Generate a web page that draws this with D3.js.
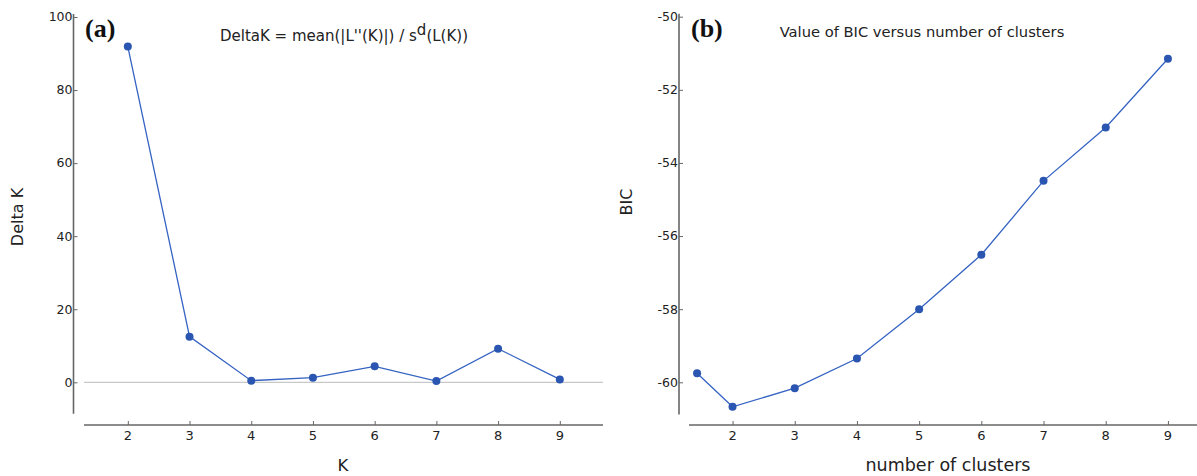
<!DOCTYPE html>
<html><head><meta charset="utf-8">
<script src="https://cdn.jsdelivr.net/npm/d3@7"></script>
<style>
body{margin:0;background:#fff;}
svg{display:block;}
text{font-family:"DejaVu Sans",sans-serif;}
text.tag{font-family:"Liberation Serif","Times New Roman",serif;font-weight:bold;}
</style></head>
<body>
<svg id="chart" width="1197" height="476"></svg>
<script>
// ---- data ----
const kValues = [2, 3, 4, 5, 6, 7, 8, 9];
const deltaK = [91.9, 12.5, 0.45, 1.27, 4.37, 0.35, 9.2, 0.8];
const deltaTicks = [0, 20, 40, 60, 80, 100];
const clusterValues = [1.43, 2, 3, 4, 5, 6, 7, 8, 9];
const bicValues = [-59.75, -60.67, -60.16, -59.35, -58.0, -56.51, -54.49, -53.03, -51.15];
const bicTicks = [-60, -58, -56, -54, -52, -50];
const xTicks = [2, 3, 4, 5, 6, 7, 8, 9];

const svg = d3.select("#chart");
const axisColor = "#666";
const textColor = "#222";
const lineColor = "#3563c2";
const dotColor = "#2a55b0";

function panel(cfg){
  const g = svg.append("g");
  const x = d3.scaleLinear().domain(cfg.xDomain).range(cfg.xRange);
  const y = d3.scaleLinear().domain(cfg.yDomain).range(cfg.yRange);

  // y axis (ticks pointing inward)
  const yAxis = d3.axisRight(y).tickValues(cfg.yTicks).tickSize(4).tickFormat("");
  const ya = g.append("g").attr("transform", `translate(${cfg.yAxisX},0)`).call(yAxis);
  ya.select(".domain").remove();
  ya.selectAll(".tick line").attr("stroke", axisColor).attr("stroke-width", 1);
  g.append("line").attr("x1", cfg.yAxisX).attr("x2", cfg.yAxisX)
    .attr("y1", y(cfg.yLineDomain[1])).attr("y2", y(cfg.yLineDomain[0]))
    .attr("stroke", axisColor).attr("stroke-width", 1.6);
  g.selectAll(".ylab").data(cfg.yTicks).enter().append("text")
    .attr("x", cfg.yAxisX - 1).attr("y", d => y(d)).attr("dy", "0.35em")
    .attr("text-anchor", "end").attr("font-size", 12.5).attr("fill", textColor)
    .text(d => d);

  // x axis
  const xAxis = d3.axisTop(x).tickValues(xTicks).tickSize(4).tickFormat("");
  const xa = g.append("g").attr("transform", `translate(0,${cfg.xAxisY})`).call(xAxis);
  xa.select(".domain").remove();
  xa.selectAll(".tick line").attr("stroke", axisColor).attr("stroke-width", 1);
  g.append("line").attr("x1", x(cfg.xDomain[0])).attr("x2", x(cfg.xDomain[1]))
    .attr("y1", cfg.xAxisY).attr("y2", cfg.xAxisY)
    .attr("stroke", axisColor).attr("stroke-width", 1.6);
  g.selectAll(".xlab").data(xTicks).enter().append("text")
    .attr("x", d => x(d)).attr("y", cfg.xAxisY + 15)
    .attr("text-anchor", "middle").attr("font-size", 13).attr("fill", textColor)
    .text(d => d);

  if (cfg.zeroLine){
    g.append("line").attr("x1", x(cfg.xDomain[0])).attr("x2", x(cfg.xDomain[1]))
      .attr("y1", y(0)).attr("y2", y(0)).attr("stroke", "#bbb").attr("stroke-width", 1);
  }

  const pts = cfg.xs.map((d, i) => [d, cfg.ys[i]]);
  g.append("path").datum(pts)
    .attr("d", d3.line().x(d => x(d[0])).y(d => y(d[1])))
    .attr("fill", "none").attr("stroke", lineColor).attr("stroke-width", 1.3);
  g.selectAll(".dot").data(pts).enter().append("circle")
    .attr("cx", d => x(d[0])).attr("cy", d => y(d[1])).attr("r", 4)
    .attr("fill", dotColor);

  // labels
  g.append("text").attr("x", cfg.xLabelX).attr("y", 471).attr("text-anchor", "middle")
    .attr("font-size", cfg.xLabelSize).attr("fill", textColor).text(cfg.xLabel);
  g.append("text").attr("transform", `translate(${cfg.yLabelX},${cfg.yLabelY}) rotate(-90)`)
    .attr("text-anchor", "middle").attr("font-size", 16).attr("fill", textColor).text(cfg.yLabel);
  g.append("text").attr("class", "tag").attr("x", cfg.tagX).attr("y", 37)
    .attr("font-size", 26).attr("fill", "#111").text(cfg.tag);
  return g;
}

const gA = panel({
  xDomain: [1.29, 9.7], xRange: [84, 603],
  yDomain: [0, 100], yRange: [382.3, 17],
  yLineDomain: [-8.6, 100.8],
  yTicks: deltaTicks, yAxisX: 73.5, xAxisY: 425,
  zeroLine: true, xs: kValues, ys: deltaK,
  xLabel: "K", xLabelX: 343, xLabelSize: 16.5, yLabel: "Delta K", yLabelX: 23, yLabelY: 217,
  tag: "(a)", tagX: 85
});
// title a with superscript
const tA = gA.append("text").attr("x", 344).attr("y", 41).attr("text-anchor", "middle")
  .attr("font-size", 15).attr("fill", textColor);
tA.append("tspan").text("DeltaK = mean(|L''(K)|) / s");
tA.append("tspan").attr("dy", -6).attr("font-size", 15).text("d");
tA.append("tspan").attr("dy", 6).text("(L(K))");

const gB = panel({
  xDomain: [1.3, 9.7], xRange: [689, 1168 + 0.7 * 62.1],
  yDomain: [-60, -50], yRange: [382.3, 16.7],
  yLineDomain: [-60.88, -49.92],
  yTicks: bicTicks, yAxisX: 679, xAxisY: 425,
  zeroLine: false, xs: clusterValues, ys: bicValues,
  xLabel: "number of clusters", xLabelX: 948, xLabelSize: 17.5, yLabel: "BIC", yLabelX: 632, yLabelY: 202,
  tag: "(b)", tagX: 691
});
gB.append("text").attr("x", 922).attr("y", 37).attr("text-anchor", "middle")
  .attr("font-size", 14.7).attr("fill", textColor).text("Value of BIC versus number of clusters");
</script>
</body></html>
